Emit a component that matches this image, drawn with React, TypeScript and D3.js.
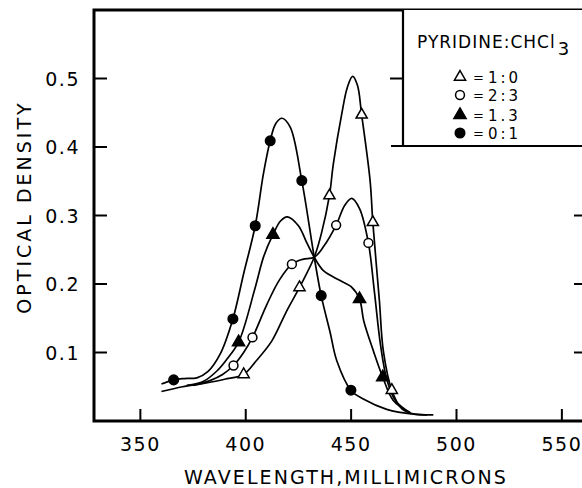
import * as d3 from "d3"
import { useEffect, useRef } from "react"

// wavelength (millimicrons) and optical density
const wavelengthTicks = [350, 400, 450, 500, 550]
const densityTicks = [0.1, 0.2, 0.3, 0.4, 0.5]

// pyridine : CHCl3 = 0:1 (filled circles)
const curve01 = [
  [360, 0.054], [365.8, 0.06], [371, 0.062], [376.8, 0.063], [382, 0.072],
  [387.9, 0.098], [393.9, 0.149], [399, 0.215], [404.5, 0.285], [408.4, 0.361],
  [411.6, 0.409], [414.2, 0.434], [417.2, 0.442], [421.1, 0.429], [426.6, 0.351],
  [432.5, 0.239], [435.8, 0.183], [440, 0.13], [443.2, 0.088], [449.9, 0.045],
  [455.8, 0.032], [466.9, 0.017], [479.5, 0.01], [489, 0.009],
]
const points01 = [
  [365.8, 0.06], [393.9, 0.149], [404.5, 0.285], [411.6, 0.409],
  [426.6, 0.351], [435.8, 0.183], [449.9, 0.045],
]

// 1:3 (filled triangles)
const curve13 = [
  [372, 0.052], [380, 0.058], [386.3, 0.073], [391, 0.09], [396.6, 0.115],
  [404.5, 0.195], [408.5, 0.24], [412.9, 0.272], [416.5, 0.292], [419.8, 0.298],
  [425, 0.285], [429, 0.26], [432.5, 0.239], [437, 0.219], [444.8, 0.205],
  [450, 0.196], [454, 0.178], [456, 0.146], [460.6, 0.102], [465, 0.064],
  [470, 0.03], [478, 0.012],
]
const points13 = [
  [396.6, 0.115], [412.9, 0.272], [454, 0.178], [465, 0.064],
]

// 2:3 (open circles)
const curve23 = [
  [375, 0.052], [383, 0.059], [389, 0.068], [394.2, 0.081], [399, 0.1],
  [403.2, 0.122], [410, 0.17], [416, 0.206], [421.9, 0.229], [427, 0.236],
  [432.5, 0.239], [437, 0.255], [442.9, 0.286], [447, 0.315], [450.3, 0.325],
  [454, 0.31], [458.2, 0.26], [461, 0.19], [464, 0.11], [467, 0.06],
  [471, 0.03], [478, 0.012],
]
const points23 = [
  [394.2, 0.081], [403.2, 0.122], [421.9, 0.229], [442.9, 0.286], [458.2, 0.26],
]

// 1:0 (open triangles)
const curve10 = [
  [360, 0.043], [370, 0.05], [380, 0.055], [390, 0.061], [399, 0.068],
  [405, 0.088], [412.4, 0.117], [419, 0.158], [425.5, 0.195], [432.5, 0.239],
  [436, 0.275], [439.7, 0.329], [441.6, 0.376], [445.6, 0.449], [448.2, 0.487],
  [450.7, 0.503], [453, 0.49], [455, 0.447], [459, 0.351], [460.3, 0.29],
  [463.4, 0.176], [465.3, 0.102], [469.3, 0.045], [474, 0.018], [480, 0.01],
  [486, 0.009],
]
const points10 = [
  [399, 0.068], [425.5, 0.195], [439.7, 0.329], [455, 0.447], [460.3, 0.29], [469.3, 0.045],
]

const legendRows = [
  { shape: "triangle", filled: false, label: "1:0" },
  { shape: "circle", filled: false, label: "2:3" },
  { shape: "triangle", filled: true, label: "1.3" },
  { shape: "circle", filled: true, label: "0:1" },
]

const series = [
  { curve: curve01, points: points01, shape: "circle", filled: true },
  { curve: curve13, points: points13, shape: "triangle", filled: true },
  { curve: curve23, points: points23, shape: "circle", filled: false },
  { curve: curve10, points: points10, shape: "triangle", filled: false },
]

const FONT = "'DejaVu Sans', sans-serif"

const SpectrumChart = ({ width = 582, height = 488 }) => {
  const ref = useRef<SVGSVGElement>(null)

  useEffect(() => {
    const svg = d3.select(ref.current)
    svg.selectAll("*").remove()

    const left = 94
    const right = 584
    const top = 10
    const bottom = 421

    const x = d3.scaleLinear().domain([328, 560.5]).range([left, right])
    const y = d3.scaleLinear().domain([0, 0.6]).range([bottom, top])

    const marker = (shape: string, filled: boolean) => {
      if (shape === "circle") return d3.symbol(d3.symbolCircle, filled ? 72 : 62)()
      return d3.symbol(d3.symbolTriangle, filled ? 64 : 54)()
    }

    // frame
    svg
      .append("path")
      .attr("d", `M${right},${top}H${left}V${bottom}H${right}`)
      .attr("fill", "none")
      .attr("stroke", "#000")
      .attr("stroke-width", 3)

    const axes = svg.append("g").attr("stroke", "#000").attr("stroke-width", 2)
    wavelengthTicks.forEach((t) => {
      axes.append("line").attr("x1", x(t)).attr("x2", x(t)).attr("y1", bottom).attr("y2", bottom - 12)
    })
    densityTicks.forEach((t) => {
      axes.append("line").attr("x1", left).attr("x2", left + 13).attr("y1", y(t)).attr("y2", y(t))
    })
    densityTicks.filter((t) => t <= 0.3).forEach((t) => {
      axes.append("line").attr("x1", 574).attr("x2", right).attr("y1", y(t)).attr("y2", y(t))
    })

    svg
      .append("g")
      .selectAll("text")
      .data(wavelengthTicks)
      .join("text")
      .attr("x", (d) => x(d))
      .attr("y", 451)
      .attr("text-anchor", "middle")
      .attr("font-family", FONT)
      .attr("font-size", 19)
      .attr("letter-spacing", 1.5)
      .text((d) => d)

    svg
      .append("g")
      .selectAll("text")
      .data(densityTicks)
      .join("text")
      .attr("x", 80)
      .attr("y", (d) => y(d) + 7)
      .attr("text-anchor", "end")
      .attr("font-family", FONT)
      .attr("font-size", 19)
      .attr("letter-spacing", 1.5)
      .text((d) => d3.format(".1f")(d))

    svg
      .append("text")
      .attr("x", 346)
      .attr("y", 484)
      .attr("text-anchor", "middle")
      .attr("font-family", FONT)
      .attr("font-size", 19)
      .attr("letter-spacing", 2.1)
      .text("WAVELENGTH,MILLIMICRONS")

    svg
      .append("text")
      .attr("transform", `translate(31,207) rotate(-90)`)
      .attr("text-anchor", "middle")
      .attr("font-family", FONT)
      .attr("font-size", 19)
      .attr("letter-spacing", 3)
      .text("OPTICAL DENSITY")

    // curves
    const line = d3
      .line()
      .x((d) => x(d[0]))
      .y((d) => y(d[1]))
      .curve(d3.curveCatmullRom.alpha(0.5))

    const plot = svg.append("g")
    series.forEach((s) => {
      plot
        .append("path")
        .datum(s.curve)
        .attr("fill", "none")
        .attr("stroke", "#000")
        .attr("stroke-width", 1.7)
        .attr("d", line)
    })
    series.forEach((s) => {
      plot
        .append("g")
        .selectAll("path")
        .data(s.points)
        .join("path")
        .attr("transform", (d) => `translate(${x(d[0])},${y(d[1])})`)
        .attr("d", marker(s.shape, s.filled))
        .attr("fill", s.filled ? "#000" : "#fff")
        .attr("stroke", "#000")
        .attr("stroke-width", 1.5)
    })

    // legend box
    const lg = svg.append("g")
    lg.append("rect").attr("x", 403).attr("y", top).attr("width", 190).attr("height", 136).attr("fill", "#fff")
    lg.append("path")
      .attr("d", `M403,${top}V146M391,146H${right}M390,${y(0.5)}H403`)
      .attr("fill", "none")
      .attr("stroke", "#000")
      .attr("stroke-width", 2.2)

    const title = lg
      .append("text")
      .attr("x", 417)
      .attr("y", 48)
      .attr("font-family", FONT)
      .attr("font-size", 17)
      .attr("letter-spacing", 1)
    title.append("tspan").text("PYRIDINE:CHCl")
    title.append("tspan").attr("dx", 2).attr("dy", 7).attr("font-size", 18).text("3")

    legendRows.forEach((r, i) => {
      const cy = [77, 95, 115, 133][i]
      lg.append("path")
        .attr("transform", `translate(460,${cy})`)
        .attr("d", marker(r.shape, r.filled))
        .attr("fill", r.filled ? "#000" : "#fff")
        .attr("stroke", "#000")
        .attr("stroke-width", 1.5)
      lg.append("text")
        .attr("x", 473)
        .attr("y", cy + 5)
        .attr("font-family", FONT)
        .attr("font-size", 13)
        .text("=")
      lg.append("text")
        .attr("x", 488)
        .attr("y", cy + 6)
        .attr("font-family", FONT)
        .attr("font-size", 15)
        .attr("letter-spacing", 3)
        .text(r.label)
    })
  }, [width, height])

  return (
    <svg
      ref={ref}
      width={width}
      height={height}
      style={{ position: "absolute", left: 0, top: 0, background: "#fff" }}
    />
  )
}

export default function App() {
  return <SpectrumChart />
}
